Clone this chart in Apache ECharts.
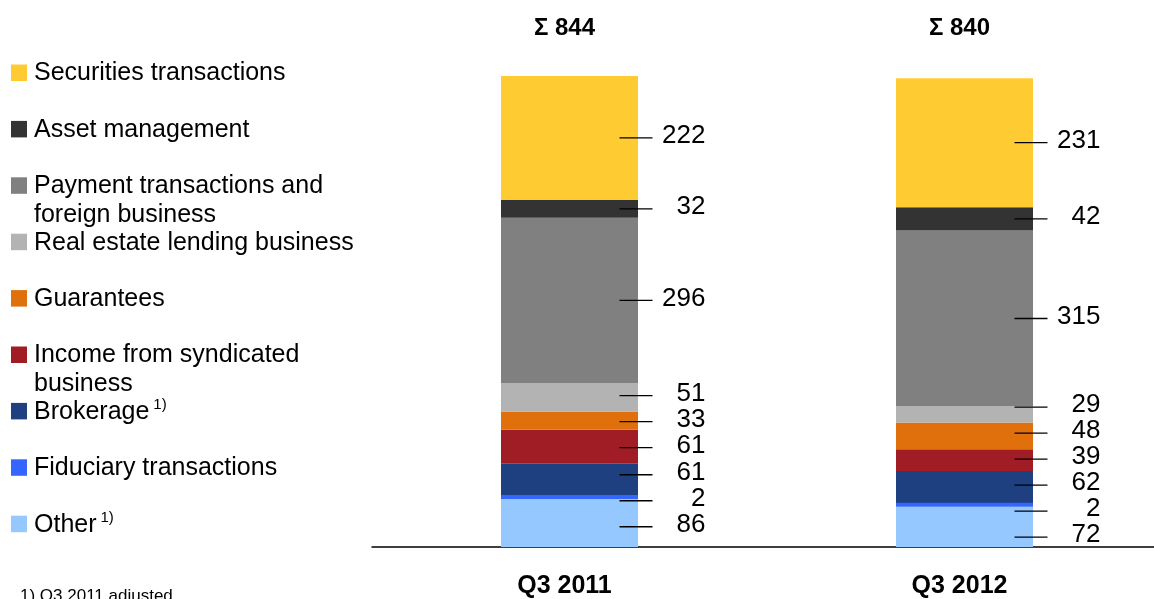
<!DOCTYPE html>
<html>
<head>
<meta charset="utf-8">
<title>Commission income by segment</title>
<script src="https://cdn.jsdelivr.net/npm/echarts@6/dist/echarts.min.js"></script>
<style>
  html, body { margin: 0; padding: 0; background: #fff; }
  #chart { width: 1154px; height: 599px; }
</style>
</head>
<body>
<div id="chart"></div>
<script>
// Quarters on the category axis
const categories = ['Q3 2011', 'Q3 2012'];

// Commission components, one array per component (index = quarter)
const securities  = [222, 231];
const asset       = [32, 42];
const payment     = [296, 315];
const realEstate  = [51, 29];
const guarantees  = [33, 48];
const syndicated  = [61, 39];
const brokerage   = [61, 62];
const fiduciary   = [2, 2];
const other       = [86, 72];

// Legend names (top to bottom) and footnote marker flags
const names = [
  'Securities transactions',
  'Asset management',
  'Payment transactions and\nforeign business',
  'Real estate lending business',
  'Guarantees',
  'Income from syndicated\nbusiness',
  'Brokerage',
  'Fiduciary transactions',
  'Other'
];
const footnoted = [false, false, false, false, false, false, true, false, true];
const colors = ['#FFCB33', '#333333', '#808080', '#B3B3B3', '#E0700C',
                '#A11D25', '#1E3F80', '#3366FF', '#94C8FF'];
const footnote = '1) Q3 2011 adjusted';

// Stack order, bottom to top
const valuesTopDown = [securities, asset, payment, realEstate, guarantees,
                       syndicated, brokerage, fiduciary, other];
const stackOrder = [8, 7, 6, 5, 4, 3, 2, 1, 0];

const totals = categories.map((_, ci) =>
  valuesTopDown.reduce((s, arr) => s + arr[ci], 0));

const FONT = '"Liberation Sans", Arial, sans-serif';

const chart = echarts.init(document.getElementById('chart'), null, { renderer: 'canvas' });

const barSeries = stackOrder.map(k => ({
  name: names[k],
  type: 'bar',
  stack: 'total',
  data: valuesTopDown[k],
  barWidth: 137,
  barMinHeight: k === 7 ? 4 : 0,
  z: k === 7 ? 3 : 2,
  itemStyle: { color: colors[k] },
  silent: true,
  animation: false
}));

// Leader lines and value labels, spread so neighbouring labels do not collide
function renderValueLabels(params, api) {
  const ci = params.dataIndex;
  let cum = 0;
  const items = [];
  stackOrder.forEach(k => {
    const v = valuesTopDown[k][ci];
    const p = api.coord([ci, cum + v / 2]);
    cum += v;
    items.push({ x: p[0], y: p[1], v: v });
  });
  items.sort((a, b) => a.y - b.y);
  const gap = 26;
  for (let it = 0; it < 300; it++) {
    for (let i = 1; i < items.length; i++) {
      const d = items[i].y - items[i - 1].y;
      if (d < gap) {
        const s = (gap - d) / 2;
        items[i - 1].y -= s;
        items[i].y += s;
      }
    }
  }
  const children = [];
  items.forEach(o => {
    children.push({
      type: 'line',
      shape: { x1: o.x + 50, y1: o.y, x2: o.x + 83, y2: o.y },
      style: { stroke: '#000', lineWidth: 1.3 }
    });
    children.push({
      type: 'text',
      x: o.x + 136, y: o.y - 2,
      style: {
        text: String(o.v), fill: '#000',
        font: '26px ' + FONT,
        align: 'right', verticalAlign: 'middle'
      }
    });
  });
  return { type: 'group', children: children };
}

// Legend drawn down the left side
const legendGraphics = [];
const legendTop = 72.5, legendStep = 56.4;
names.forEach((n, i) => {
  const cy = legendTop + i * legendStep;
  legendGraphics.push({
    type: 'rect',
    shape: { x: 11, y: cy - 8, width: 16, height: 16.5 },
    style: { fill: colors[i] },
    silent: true
  });
  legendGraphics.push({
    type: 'text',
    x: 34, y: cy - 13.5,
    style: {
      text: n + (footnoted[i] ? '{sup|1)}' : ''),
      font: '25px ' + FONT,
      fill: '#000',
      lineHeight: 29,
      verticalAlign: 'top',
      rich: {
        sup: { fontSize: 15, fontFamily: FONT, verticalAlign: 'top', padding: [0, 0, 0, 4], lineHeight: 18 }
      }
    },
    silent: true
  });
});
legendGraphics.push({
  type: 'text',
  x: 20, y: 596,
  style: { text: footnote, font: '17px ' + FONT, fill: '#000', verticalAlign: 'middle' },
  silent: true
});

chart.setOption({
  animation: false,
  backgroundColor: '#fff',
  grid: { left: 372, top: 76, width: 790, height: 471, containLabel: false, outerBoundsMode: 'none' },
  xAxis: [
    {
      type: 'category',
      data: categories,
      position: 'bottom',
      axisLine: { show: true, lineStyle: { color: '#000', width: 1.5 } },
      axisTick: { show: false },
      axisLabel: {
        color: '#000', fontFamily: FONT, fontSize: 25, fontWeight: 'bold',
        margin: 27, padding: [0, 10, 0, 0]
      }
    },
    {
      type: 'category',
      data: totals.map(t => '\u03A3 ' + t),
      position: 'top',
      axisLine: { show: false },
      axisTick: { show: false },
      axisLabel: {
        color: '#000', fontFamily: FONT, fontSize: 24, fontWeight: 'bold',
        margin: 36, padding: [0, 10, 0, 0]
      }
    }
  ],
  yAxis: { type: 'value', min: 0, max: 844, show: false },
  series: barSeries.concat([{
    type: 'custom',
    data: categories.map((_, i) => [i, 0]),
    encode: { x: 0, y: 1 },
    renderItem: renderValueLabels,
    silent: true,
    clip: false,
    z: 5
  }]),
  graphic: legendGraphics
});
</script>
</body>
</html>
